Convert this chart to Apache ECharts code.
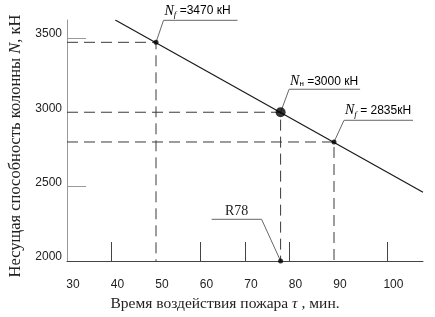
<!DOCTYPE html>
<html>
<head>
<meta charset="utf-8">
<script src="https://cdn.jsdelivr.net/npm/echarts@6/dist/echarts.min.js"></script>
<style>
  html, body { margin: 0; padding: 0; background: #fff; }
  #main { width: 435px; height: 317px; }
</style>
</head>
<body>
<div id="main"></div>
<script>
// деления и подписи осей
const xLabelValues = [30, 40, 50, 60, 70, 80, 90, 102];
const xLabelTexts = ['30', '40', '50', '60', '70', '80', '90', '100'];
const xTickValues = [40, 60, 70, 80, 102];
const yLabelValues = [2000, 2500, 3000, 3500];
const yTickValues = [2500, 3500];

// линия несущей способности (мин, кН)
const lineTimes = [40.85, 110];
const lineLoads = [3620, 2462];

// отмеченные точки
const pointTimes = [50, 78, 90];
const pointLoads = [3470, 3000, 2800];
const pointSizes = [5, 10, 5];
const pointNotes = [
  '{n|N}{s|f}{t| =3470 кН}',
  '{n|N}{h|н}{t| =3000 кН}',
  '{n|N}{s|f}{t| = 2835кН}'
];

// предел огнестойкости
const limitTime = 78;
const limitText = 'R78';

const chartDom = document.getElementById('main');
const myChart = echarts.init(chartDom);

const serif = '"Liberation Serif", "DejaVu Serif", serif';
const sans = '"Liberation Sans", Arial, sans-serif';

// пунктирные выноски к осям
const guideSeries = pointTimes.map((t, i) => ({
  type: 'line',
  data: [[30, pointLoads[i]], [t, pointLoads[i]], [t, 2000]],
  showSymbol: false,
  silent: true,
  lineStyle: { color: '#3a3a3a', width: 1, type: [11, 6] },
  z: 1
}));

const option = {
  animation: false,
  grid: { left: 67, right: 12, top: 20, bottom: 56, outerBoundsMode: 'none' },
  xAxis: {
    type: 'value',
    min: 30,
    max: 110,
    name: '{a|Время воздействия пожара }{i|τ}{a| , мин.}',
    nameLocation: 'middle',
    nameGap: 31,
    nameTextStyle: {
      padding: [0, 40, 0, 0],
      rich: {
        a: { fontFamily: serif, fontSize: 15.5, color: '#222' },
        i: { fontFamily: serif, fontStyle: 'italic', fontSize: 15.5, color: '#222' }
      }
    },
    axisLine: { lineStyle: { color: '#444', width: 1 } },
    axisTick: {
      show: true, inside: true, length: 19,
      customValues: xTickValues,
      lineStyle: { color: '#444' }
    },
    axisLabel: {
      customValues: xLabelValues,
      formatter: (v) => xLabelTexts[xLabelValues.indexOf(v)],
      margin: 18,
      padding: [0, 0, 0, 12],
      fontFamily: sans,
      fontSize: 12,
      color: '#222'
    },
    splitLine: { show: false }
  },
  yAxis: {
    type: 'value',
    min: 2000,
    max: 3620,
    name: '{a|Несущая способность колонны }{i|N}{a|, кН}',
    nameLocation: 'middle',
    nameGap: 42,
    nameTextStyle: {
      padding: [0, 11, 0, 0],
      rich: {
        a: { fontFamily: serif, fontSize: 16.5, color: '#222' },
        i: { fontFamily: serif, fontStyle: 'italic', fontSize: 16.5, color: '#222' }
      }
    },
    axisLine: { show: true, lineStyle: { color: '#999', width: 1 } },
    axisTick: {
      show: true, inside: true, length: 19,
      customValues: yTickValues,
      lineStyle: { color: '#999' }
    },
    axisLabel: {
      customValues: yLabelValues,
      formatter: (v) => String(v),
      margin: 5,
      verticalAlign: 'bottom',
      lineHeight: 8,
      fontFamily: sans,
      fontSize: 12,
      color: '#222'
    },
    splitLine: { show: false }
  },
  series: [
    ...guideSeries,
    {
      type: 'line',
      data: lineTimes.map((t, i) => [t, lineLoads[i]]),
      showSymbol: false,
      silent: true,
      lineStyle: { color: '#1a1a1a', width: 1.2 },
      z: 3
    },
    {
      type: 'scatter',
      data: pointTimes.map((t, i) => [t, pointLoads[i]]).concat([[limitTime, 2000]]),
      symbolSize: (v, p) => p.dataIndex < pointSizes.length ? pointSizes[p.dataIndex] : 5,
      itemStyle: { color: '#000' },
      clip: false,
      silent: true,
      z: 5
    }
  ]
};

option && myChart.setOption(option);

// выноски с подписями
const leaderStyle = { stroke: '#666', lineWidth: 1, fill: null };
const leaderOffsets = [[7.5, -22, 74], [8.5, -23, 71], [10, -21.7, 69]];
const noteRich = {
  n: { fontFamily: serif, fontStyle: 'italic', fontSize: 14, color: '#111' },
  s: { fontFamily: serif, fontStyle: 'italic', fontSize: 9, color: '#111', verticalAlign: 'bottom', padding: [8, 0, 0, 0] },
  h: { fontFamily: sans, fontSize: 8, color: '#111', verticalAlign: 'bottom', padding: [6, 0, 0, 0] },
  t: { fontFamily: sans, fontSize: 12, color: '#111' }
};
const graphics = [];
pointTimes.forEach((t, i) => {
  const p = myChart.convertToPixel({ gridIndex: 0 }, [t, pointLoads[i]]);
  const [dx, dy, len] = leaderOffsets[i];
  const ex = p[0] + dx, ey = p[1] + dy;
  graphics.push({
    type: 'polyline', silent: true,
    shape: { points: [p, [ex, ey], [ex + len, ey]] },
    style: leaderStyle
  });
  graphics.push({
    type: 'text', silent: true, x: ex + 1, y: ey - 1,
    style: { text: pointNotes[i], rich: noteRich, align: 'left', verticalAlign: 'bottom' }
  });
});
const r = myChart.convertToPixel({ gridIndex: 0 }, [limitTime, 2000]);
const rx = r[0] - 19, ry = r[1] - 41.7;
graphics.push({
  type: 'polyline', silent: true,
  shape: { points: [r, [rx, ry], [rx - 50, ry]] },
  style: leaderStyle
});
graphics.push({
  type: 'text', silent: true, x: rx - 25, y: ry - 1,
  style: { text: limitText, font: '14px ' + serif, fill: '#222', align: 'center', verticalAlign: 'bottom' }
});
myChart.setOption({ graphic: graphics });
</script>
</body>
</html>
